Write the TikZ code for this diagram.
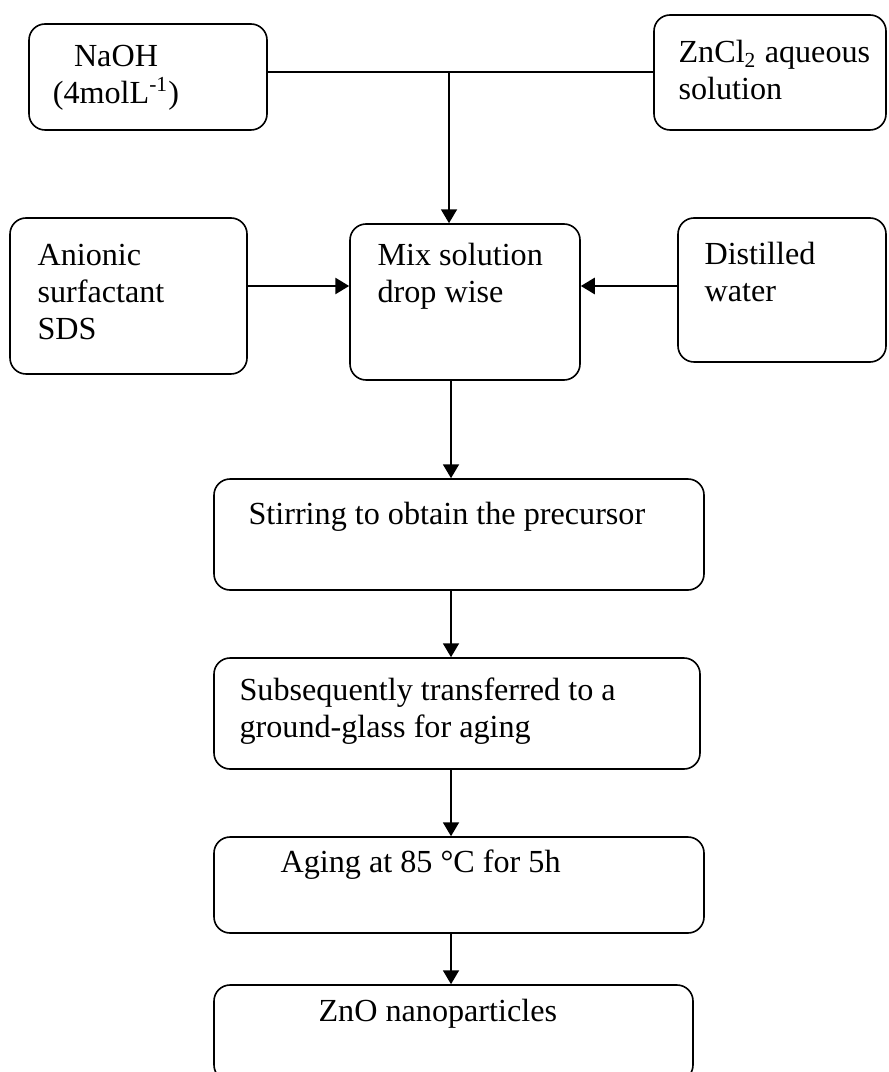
\documentclass[tikz,border=0pt]{standalone}
\usepackage{fontspec}
\setmainfont{Liberation Serif}
\usetikzlibrary{arrows.meta,positioning}
\newlength{\px}
\setlength{\px}{0.373pt}
\newcommand{\flowfont}{\fontsize{12}{13.8}\selectfont}

\begin{document}
\begin{tikzpicture}[
    x=0.373pt, y=-0.373pt,
    box/.style={draw, rounded corners=6pt, line width=0.6pt, inner sep=0pt},
    txt/.style={font=\flowfont, inner sep=0pt, align=left, anchor=west},
    arr/.style={-{Triangle[length=5.2pt, width=6pt]}, line width=0.6pt},
    arrthick/.style={-{Triangle[length=5.2pt, width=6pt]}, line width=0.9pt}
]
    \useasboundingbox (0,0) rectangle (888,1072);

    % boxes
    \node[box, minimum width=238\px, minimum height=106\px] (naoh) at (148,77) {};
    \node[box, minimum width=232\px, minimum height=115\px] (zncl) at (770,72.5) {};
    \node[box, minimum width=237\px, minimum height=156\px] (anionic) at (128.5,296) {};
    \node[box, minimum width=230\px, minimum height=156\px] (mix) at (465,302) {};
    \node[box, minimum width=208\px, minimum height=144\px] (water) at (782,290) {};
    \node[box, minimum width=490\px, minimum height=111\px] (stir) at (459,534.5) {};
    \node[box, minimum width=486\px, minimum height=111\px] (transfer) at (457,713.5) {};
    \node[box, minimum width=490\px, minimum height=96\px] (aging) at (459,885) {};
    \node[box, minimum width=479\px, minimum height=96\px] (zno) at (453.5,1033) {};

    % texts
    \node[txt, anchor=center, align=center] (naoh-t) at (116,77.5) {NaOH\\(4molL\textsuperscript{-1})};
    \node[txt] (zncl-t) at (678,70.5) {ZnCl\textsubscript{2} aqueous\\solution};
    \node[txt] (anionic-t) at (37,292) {Anionic\\surfactant\\SDS};
    \node[txt] (mix-t) at (377,276) {Mix solution\\drop wise};
    \node[txt] (water-t) at (704,272) {Distilled\\water};
    \node[txt] (stir-t) at (248,517) {Stirring to obtain the precursor};
    \node[txt] (transfer-t) at (239,711) {Subsequently transferred to a\\ground-glass for aging};
    \node[txt] (aging-t) at (280,865) {Aging at 85 °C for 5h};
    \node[txt] (zno-t) at (318,1014) {ZnO nanoparticles};

    % connectors
    \coordinate (join) at (449,72);
    \coordinate (side) at (465,286);
    \coordinate (spine) at (451,0);
    \draw[line width=0.6pt] (naoh.east |- join) -- (zncl.west |- join);
    \draw[arr] (join) -- (join |- mix.north);
    \draw[arrthick] (anionic.east |- side) -- (mix.west |- side);
    \draw[arrthick] (water.west |- side) -- (mix.east |- side);
    \draw[arr] (mix.south -| spine) -- (stir.north -| spine);
    \draw[arr] (stir.south -| spine) -- (transfer.north -| spine);
    \draw[arr] (transfer.south -| spine) -- (aging.north -| spine);
    \draw[arr] (aging.south -| spine) -- (zno.north -| spine);
\end{tikzpicture}
\end{document}
